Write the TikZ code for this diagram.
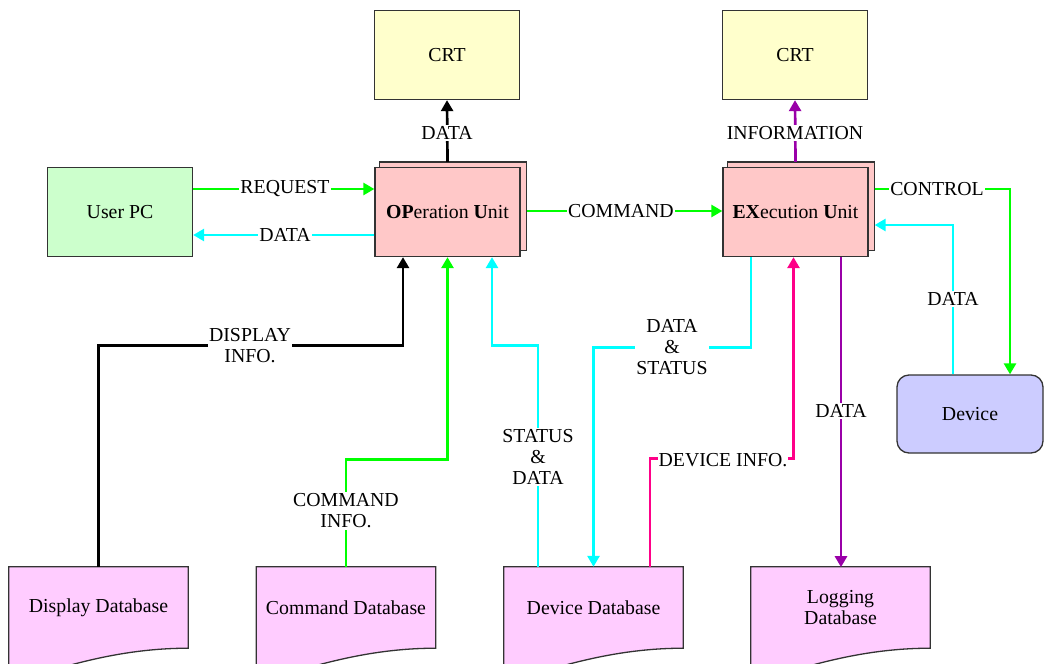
\documentclass[tikz,border=0pt]{standalone}
\usepackage{fontspec}
\setmainfont{Liberation Serif}
\usetikzlibrary{arrows.meta,backgrounds,calc}
\definecolor{crtfill}{HTML}{FFFFCC}
\definecolor{pcfill}{HTML}{CCFFCC}
\definecolor{unitfill}{HTML}{FFC8C8}
\definecolor{devfill}{HTML}{CCCCFF}
\definecolor{docfill}{HTML}{FFCCFF}
\definecolor{edge}{HTML}{333333}
\definecolor{lgreen}{HTML}{00FF00}
\definecolor{lcyan}{HTML}{00FFFF}
\definecolor{lpurple}{HTML}{9900A8}
\definecolor{lpink}{HTML}{FF0088}
\begin{document}
\begin{tikzpicture}[x=1pt,y=-1pt,font=\fontsize{19.8}{21}\selectfont,
	box/.style={draw=edge, line width=1.3pt, minimum width=145pt, minimum height=89pt},
	screen/.style={box, fill=crtfill},
	unitbox/.style={box, fill=unitfill},
	doc/.style={minimum width=179pt, minimum height=81pt, inner sep=0pt, align=center},
	lbl/.style={fill=white, inner sep=1.5pt, align=center},
	flow/.style={line width=2.7pt, -{Triangle[length=11pt,width=12pt]}}
	]
	\useasboundingbox (0,0) rectangle (1045,664);
	\node [screen] (crta) at (447,55) {CRT};
	\node [screen] (crtb) at (795,55) {CRT};
	\node [box, fill=pcfill] (pc) at (120,212) {User PC};
	\node [unitbox] (opu) at (447.5,212) {\textbf{OP}eration \textbf{U}nit};
	\node [unitbox] (exu) at (795.5,212) {\textbf{EX}ecution \textbf{U}nit};
	\node [draw=edge, line width=1.3pt, rounded corners=12pt, fill=devfill,
		minimum width=146pt, minimum height=78pt] (dev) at (970,414) {Device};
	\node [doc] (ddb) at (98.5,607.5) {Display Database};
	\node [doc] (cdb) at (346,607.5) {Command Database};
	\node [doc] (vdb) at (593.5,607.5) {Device Database};
	\node [doc] (ldb) at (840.5,607.5) {Logging\\Database};
	\begin{scope}[on background layer]
		\foreach \u in {opu,exu}
			\draw [unitbox] ($(\u.south west)+(5,-7)$) rectangle ($(\u.north east)+(6,-5)$);
		\foreach \d in {ddb,cdb,vdb,ldb} {
			\fill [docfill] ($(\d.south west)+(0,17)$) -- (\d.north west) -- (\d.north east) -- (\d.south east)
				.. controls +(-48,0) and +(30,-8) .. ($(\d.south west)+(61,17)$) -- cycle;
			\draw [edge, line width=1.3pt] ($(\d.south west)+(0,17)$) -- (\d.north west) -- (\d.north east) -- (\d.south east)
				.. controls +(-48,0) and +(30,-8) .. ($(\d.south west)+(61,17)$);
		}
	\end{scope}
	% top
	\draw [flow] ($(opu.north)+(0,-5)$) -- (crta.south);
	\draw [flow, lpurple] ($(exu.north)+(0,-5)$) -- (crtb.south);
	% left
	\draw [flow, lgreen] ($(pc.east)+(0,-23)$) -- ($(opu.west)+(0,-23)$);
	\draw [flow, lcyan] ($(opu.west)+(0,23)$) -- ($(pc.east)+(0,23)$);
	\draw [flow, lgreen] ($(opu.east)+(6,-1)$) -- ($(exu.west)+(0,-1)$);
	% right
	\draw [flow, lgreen] ($(exu.east)+(6,-23)$) -| ($(dev.north)+(40,0)$);
	\draw [flow, lcyan] ($(dev.north)+(-17,0)$) |- ($(exu.east)+(6,13)$);
	% bottom
	\draw [flow] (ddb.north) -- ++(0,-221) -| ($(opu.south)+(-44.5,0)$);
	\draw [flow, lgreen] (cdb.north) -- ++(0,-107) -| (opu.south);
	\draw [flow, lcyan] ($(vdb.north)+(-55.5,0)$) -- ++(0,-221) -| ($(opu.south)+(44.5,0)$);
	\draw [flow, lcyan] ($(exu.south)+(-44.5,0)$) -- ++(0,90) -| (vdb.north);
	\draw [flow, lpink] ($(vdb.north)+(56.5,0)$) -- ++(0,-108) -| ($(exu.south)+(-2,0)$);
	\draw [flow, lpurple] ($(exu.south)+(45.5,0)$) -- ($(exu.south)+(45.5,310)$);
	% labels
	\node [lbl] (la) at (447,133) {DATA};
	\node [lbl] (lb) at (795,133) {INFORMATION};
	\node [lbl] (lc) at (285,189) {REQUEST};
	\node [lbl] (ld) at (285,235) {DATA};
	\node [lbl] (le) at (621,211) {COMMAND};
	\node [lbl] (lf) at (937,189) {CONTROL};
	\node [lbl] (lg) at (953,299) {DATA};
	\node [lbl] (lh) at (250,346) {DISPLAY\\INFO.};
	\node [lbl] (li) at (346,511) {COMMAND\\INFO.};
	\node [lbl] (lj) at (538,457) {STATUS\\\&\\DATA};
	\node [lbl] (lk) at (672,347) {DATA\\\&\\STATUS};
	\node [lbl, inner xsep=1pt] (ll) at (723,460) {DEVICE INFO.};
	\node [lbl] (lm) at (841,411) {DATA};
\end{tikzpicture}
\end{document}
